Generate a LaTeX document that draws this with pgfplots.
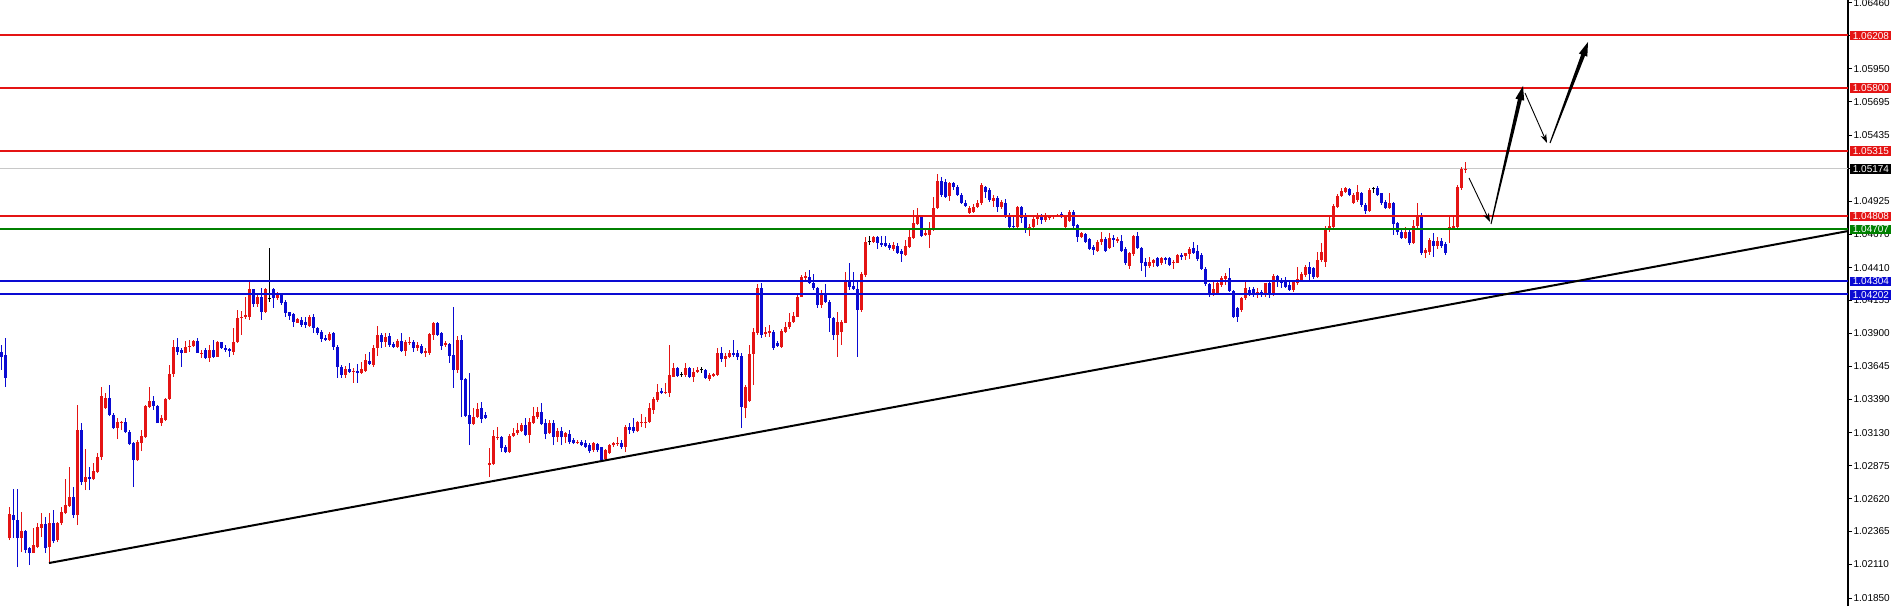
\documentclass[border=0pt]{standalone}
\usepackage{pgfplots}
\pgfplotsset{compat=1.18}
\usepackage{pgfplotstable}
\usepackage{fontspec}
\usetikzlibrary{arrows.meta}
\newfontfamily\lab{Liberation Sans}
\definecolor{cred}{RGB}{228,20,20}
\definecolor{cblue}{RGB}{10,10,210}
\definecolor{cgreen}{RGB}{0,128,0}
\definecolor{cgrey}{RGB}{200,200,200}
% candles: i = bar index, o h l c read as pixel rows of the reference (y grows downward)
\pgfplotstableread{
i o h l c
0 352 345 370 357
1 355 338 387 378
2 538 507 540 514
3 515 489 538 520
4 520 489 567 538
5 538 512 552 531
6 531 530 553 550
7 548 547 565 553
8 553 528 553 545
9 547 523 548 527
10 528 513 537 524
11 524 517 553 548
12 547 513 563 523
13 523 510 543 541
14 540 522 542 523
15 523 507 525 512
16 513 479 514 505
17 506 467 507 497
18 497 487 518 515
19 515 405 525 430
20 430 423 485 482
21 482 449 490 477
22 477 467 490 479
23 479 463 480 471
24 472 453 473 457
25 457 387 460 396
26 408 393 409 398
27 398 385 416 415
28 415 413 429 428
29 428 418 439 422
30 423 421 430 422
31 422 418 433 432
32 432 430 445 444
33 443 442 487 460
34 460 440 461 442
35 443 430 451 436
36 437 405 438 406
37 407 387 408 401
38 401 396 410 406
39 406 405 423 423
40 423 415 426 418
41 420 398 421 399
42 399 365 400 374
43 374 340 377 347
44 347 338 355 352
45 350 348 367 353
46 353 341 353 347
47 347 340 352 346
48 346 340 347 341
49 341 338 353 353
50 354 350 358 353
51 350 348 359 358
52 358 345 362 350
53 350 340 358 357
54 357 341 357 342
55 342 342 349 348
56 348 345 352 350
57 349 348 357 351
58 352 328 355 342
59 342 310 343 318
60 318 311 335 317
61 317 297 319 315
62 317 282 320 289
63 289 289 307 304
64 304 293 307 297
65 297 288 320 312
66 312 288 313 289
67 299 248 302 299
68 289 288 308 298
69 298 292 300 295
70 295 293 305 303
71 302 300 317 313
72 312 312 320 316
73 314 313 327 322
74 323 318 323 319
75 320 317 327 325
76 322 317 328 325
77 326 315 327 317
78 317 314 333 328
79 328 327 335 333
80 332 330 342 339
81 338 335 341 340
82 340 332 341 334
83 333 332 350 347
84 347 345 378 367
85 367 365 378 375
86 375 366 378 369
87 369 363 373 372
88 372 368 383 371
89 371 364 383 373
90 373 362 374 369
91 371 354 372 360
92 361 352 365 364
93 365 345 367 348
94 348 326 356 335
95 335 333 348 342
96 342 333 347 337
97 336 333 347 345
98 344 342 348 347
99 347 339 348 341
100 341 333 352 351
101 351 340 356 342
102 343 337 345 342
103 342 340 352 348
104 348 342 351 345
105 346 344 354 353
106 353 348 357 351
107 353 333 355 334
108 335 322 340 323
109 323 322 336 335
110 333 332 350 346
111 345 341 347 343
112 344 343 363 356
113 355 307 388 370
114 370 336 373 340
115 340 335 417 380
116 379 378 417 416
117 415 373 445 424
118 424 408 425 417
119 417 403 418 409
120 408 402 423 419
121 415 412 419 418
122 465 448 477 463
123 464 430 465 436
124 438 427 440 437
125 437 436 452 448
126 447 445 453 452
127 452 434 453 436
128 436 428 437 433
129 433 423 435 430
130 431 423 432 425
131 425 418 436 435
132 435 418 443 422
133 423 407 424 416
134 417 407 419 412
135 412 403 425 424
136 423 419 439 434
137 433 420 434 423
138 423 420 445 437
139 437 428 442 431
140 431 427 445 437
141 437 432 443 433
142 434 430 444 442
143 440 438 444 443
144 443 440 444 442
145 442 440 446 445
146 443 440 448 447
147 445 443 453 451
148 450 442 452 443
149 444 443 452 450
150 447 447 462 460
151 459 449 461 450
152 453 444 454 445
153 445 442 447 443
154 444 437 446 443
155 443 440 449 447
156 447 425 452 427
157 427 423 434 430
158 427 418 433 431
159 431 421 432 422
160 423 414 427 422
161 423 417 428 422
162 422 403 423 408
163 410 397 414 399
164 400 384 402 392
165 391 388 394 393
166 393 383 394 392
167 393 345 397 375
168 377 363 377 368
169 368 367 377 376
170 375 372 377 375
171 375 363 377 368
172 368 367 378 377
173 377 368 382 372
174 372 367 373 370
175 370 367 373 370
176 370 369 379 378
177 379 373 381 375
178 376 373 377 374
179 375 348 376 353
180 353 347 362 359
181 359 353 367 356
182 357 350 358 353
183 353 340 357 355
184 353 350 360 357
185 356 353 428 407
186 408 385 418 387
187 401 345 402 354
188 354 328 385 332
189 333 284 335 288
190 288 283 338 335
191 334 327 337 332
192 333 325 337 331
193 332 330 350 348
194 343 341 347 346
195 347 329 348 331
196 332 322 333 327
197 327 313 329 322
198 322 312 323 316
199 317 295 317 297
200 297 275 297 277
201 278 272 280 276
202 277 270 284 283
203 283 274 290 288
204 288 287 308 305
205 305 290 308 293
206 293 284 303 302
207 302 300 332 318
208 318 317 340 335
209 335 312 357 322
210 332 320 345 322
211 323 272 323 280
212 280 263 290 287
213 286 272 290 289
214 289 280 357 310
215 310 272 312 274
216 275 237 277 242
217 242 236 245 242
218 242 236 243 237
219 237 236 249 243
220 243 236 247 245
221 243 236 247 246
222 245 243 250 248
223 249 242 251 245
224 246 243 254 253
225 251 249 262 254
226 255 240 256 246
227 247 230 248 237
228 238 210 239 223
229 224 208 225 217
230 217 216 237 236
231 235 230 236 233
232 235 222 248 230
233 230 197 231 208
234 208 174 209 181
235 181 177 197 195
236 182 179 198 197
237 196 182 201 183
238 183 182 190 187
239 187 185 196 195
240 195 193 204 203
241 203 200 207 206
242 213 206 214 208
243 212 204 213 207
244 207 200 208 203
245 203 183 205 185
246 187 186 198 192
247 190 188 202 200
248 201 195 207 198
249 198 196 212 207
250 207 200 209 202
251 203 199 218 215
252 217 213 230 227
253 226 215 230 227
254 227 206 228 207
255 207 206 223 218
256 216 213 233 228
257 228 224 236 227
258 227 217 228 219
259 219 213 225 216
260 217 214 224 220
261 220 213 222 216
262 218 216 220 217
263 217 215 219 216
264 216 214 217 215
265 214 212 218 217
266 227 215 228 217
267 221 210 222 212
268 212 210 229 226
269 225 224 242 237
270 237 232 238 233
271 234 233 243 242
272 239 238 250 249
273 247 245 255 250
274 251 240 252 242
275 242 232 245 239
276 239 237 252 251
277 248 233 249 238
278 238 235 247 240
279 241 237 243 239
280 241 235 252 251
281 249 247 265 263
282 266 252 269 253
283 254 235 256 236
284 236 232 249 248
285 248 247 271 263
286 262 258 277 266
287 266 257 268 262
288 263 259 267 260
289 258 257 267 266
290 263 257 265 258
291 258 257 264 260
292 258 257 266 265
293 263 260 269 262
294 263 254 263 255
295 255 253 260 257
296 256 253 260 253
297 254 247 259 249
298 248 242 254 253
299 251 245 261 259
300 255 253 270 269
301 269 267 286 284
302 284 283 297 293
303 293 280 296 289
304 293 282 294 283
305 285 276 287 278
306 279 273 285 276
307 278 268 292 291
308 291 290 318 317
309 308 307 322 317
310 310 297 312 298
311 298 281 300 288
312 290 287 296 293
313 289 287 297 295
314 295 288 298 292
315 292 290 297 295
316 295 283 297 283
317 283 280 298 293
318 294 274 296 276
319 276 275 287 281
320 281 278 288 283
321 282 277 288 287
322 285 280 291 290
323 290 280 292 282
324 283 267 285 279
325 280 272 282 274
326 275 265 277 267
327 267 262 282 274
328 268 267 279 277
329 277 252 278 260
330 260 243 262 252
331 262 226 267 228
332 230 215 232 226
333 227 204 230 206
334 207 194 208 196
335 196 188 197 191
336 192 187 193 188
337 189 188 196 195
338 203 193 204 195
339 200 185 202 192
340 193 192 207 205
341 205 203 214 211
342 211 188 212 190
343 189 187 193 189
344 188 186 196 195
345 193 193 205 203
346 202 200 209 208
347 208 193 209 203
348 203 202 235 224
349 223 222 235 232
350 232 230 239 238
351 238 227 239 232
352 232 230 245 243
353 243 220 244 226
354 226 203 228 215
355 215 213 255 253
356 253 248 258 250
357 252 238 255 240
358 241 233 257 246
359 246 237 249 241
360 241 238 248 246
361 244 242 255 253
362 230 217 243 227
363 228 215 230 226
364 227 185 228 187
365 188 167 190 169
366 170 162 173 169
}\candles
\newcommand{\cwick}[2]{% #1 colour, #2 domain
  \addplot[draw=none, mark=none, forget plot,
    restrict expr to domain={\thisrow{o}-\thisrow{c}}{#2},
    error bars/.cd, y dir=plus, y explicit, error mark=none,
    error bar style={draw=#1, line width=0.5pt}]
    table[x=i, y expr={1.064832-0.00007748*\thisrow{l}},
      y error plus expr={0.00007748*(\thisrow{l}-\thisrow{h})}] {\candles};}
\begin{document}
\begin{tikzpicture}
\useasboundingbox (0,0) rectangle (947pt,303pt);
\begin{axis}[
  at={(0,0)}, anchor=south west,
  scale only axis, width=924pt, height=303pt,
  xmin=-0.25, xmax=461.75, ymin=1.01788, ymax=1.06483,
  enlargelimits=false,
  axis x line=none, axis y line=right,
  axis line style={black, line width=0.6pt, -},
  ytick={1.01850,1.02110,1.02365,1.02620,1.02875,1.03130,1.03390,1.03645,1.03900,1.04155,1.04410,1.04670,1.04925,1.05180,1.05435,1.05695,1.05950,1.06205,1.06460},
  yticklabels={1.01850,1.02110,1.02365,1.02620,1.02875,1.03130,1.03390,1.03645,1.03900,1.04155,1.04410,1.04670,1.04925,1.05180,1.05435,1.05695,1.05950,1.06205,1.06460},
  tick align=outside, major tick length=2pt,
  tick style={black, line width=0.5pt},
  yticklabel style={font=\lab\fontsize{5}{6}\selectfont, anchor=west, inner sep=0.6pt, text=black},
  clip=true,
]
% current price line
\addplot[cgrey, line width=0.5pt, forget plot] coordinates {(-0.25,1.05174) (461.75,1.05174)};
% wicks
\cwick{cred}{0.5:1000}
\cwick{cblue}{-1000:-0.5}
\cwick{black}{-0.4:0.4}
% bodies
\addplot[draw=none, mark=none, forget plot,
  restrict expr to domain={\thisrow{o}-\thisrow{c}}{0.5:1000},
  error bars/.cd, y dir=plus, y explicit, error mark=none,
  error bar style={draw=cred, line width=1.5pt}]
  table[x=i, y expr={1.064832-0.00007748*\thisrow{o}},
    y error plus expr={0.00007748*(\thisrow{o}-\thisrow{c})}] {\candles};
\addplot[draw=none, mark=none, forget plot,
  restrict expr to domain={\thisrow{o}-\thisrow{c}}{-1000:-0.5},
  error bars/.cd, y dir=plus, y explicit, error mark=none,
  error bar style={draw=cblue, line width=1.5pt}]
  table[x=i, y expr={1.064832-0.00007748*\thisrow{c}},
    y error plus expr={0.00007748*(\thisrow{c}-\thisrow{o})}] {\candles};
\addplot[draw=none, mark=none, forget plot,
  restrict expr to domain={\thisrow{o}-\thisrow{c}}{-0.4:0.4},
  error bars/.cd, y dir=plus, y explicit, error mark=none,
  error bar style={draw=black, line width=1.5pt}]
  table[x=i, y expr={1.064832-0.00007748*(\thisrow{o}+0.5)},
    y error plus expr={0.00007748}] {\candles};
% horizontal levels
\addplot[cred, line width=1pt] coordinates {(-0.25,1.06208) (461.75,1.06208)};
\addplot[cred, line width=1pt] coordinates {(-0.25,1.05800) (461.75,1.05800)};
\addplot[cred, line width=1pt] coordinates {(-0.25,1.05315) (461.75,1.05315)};
\addplot[cred, line width=1pt] coordinates {(-0.25,1.04808) (461.75,1.04808)};
\addplot[cgreen, line width=1pt] coordinates {(-0.25,1.04707) (461.75,1.04707)};
\addplot[cblue, line width=1pt] coordinates {(-0.25,1.04304) (461.75,1.04304)};
\addplot[cblue, line width=1pt] coordinates {(-0.25,1.04202) (461.75,1.04202)};
% trend line
\addplot[black, line width=1pt] coordinates {(12,1.02121) (461.75,1.04693)};
\end{axis}
% annotations in reference pixel units
\begin{scope}[x=0.5pt, y=-0.5pt, shift={(0,303pt)}]
\tikzset{lvl/.style={font=\lab\fontsize{5}{6}\selectfont, text=white, inner sep=0pt, minimum width=20.5pt, minimum height=4.9pt, anchor=west}}
\node[lvl, fill=cred] at (1850,35.6) {1.06208};
\node[lvl, fill=cred] at (1850,88.3) {1.05800};
\node[lvl, fill=cred] at (1850,150.9) {1.05315};
\node[lvl, fill=black] at (1850,169.1) {1.05174};
\node[lvl, fill=cred] at (1850,216.5) {1.04808};
\node[lvl, fill=cgreen] at (1850,229.5) {1.04707};
\node[lvl, fill=cblue] at (1850,281.5) {1.04304};
\node[lvl, fill=cblue] at (1850,294.7) {1.04202};
% thin arrows
\draw[line width=0.45pt, -{Stealth[length=4.5pt,width=3pt]}] (1469,178) -- (1490,222);
\draw[line width=0.45pt, -{Stealth[length=4.5pt,width=3pt]}] (1525,93) -- (1547,143);
% thick tapered arrows
\fill[black] (1491.5,224.1) -- (1521.7,100.1) -- (1524.2,100.6) -- (1523,86) -- (1515.4,98.6) -- (1517.9,99.1) -- (1490.5,223.9) -- cycle;
\fill[black] (1550.5,143.2) -- (1585.0,55.8) -- (1587.3,56.7) -- (1588,42) -- (1578.9,53.5) -- (1581.2,54.4) -- (1549.5,142.8) -- cycle;
\end{scope}
\end{tikzpicture}
\end{document}
